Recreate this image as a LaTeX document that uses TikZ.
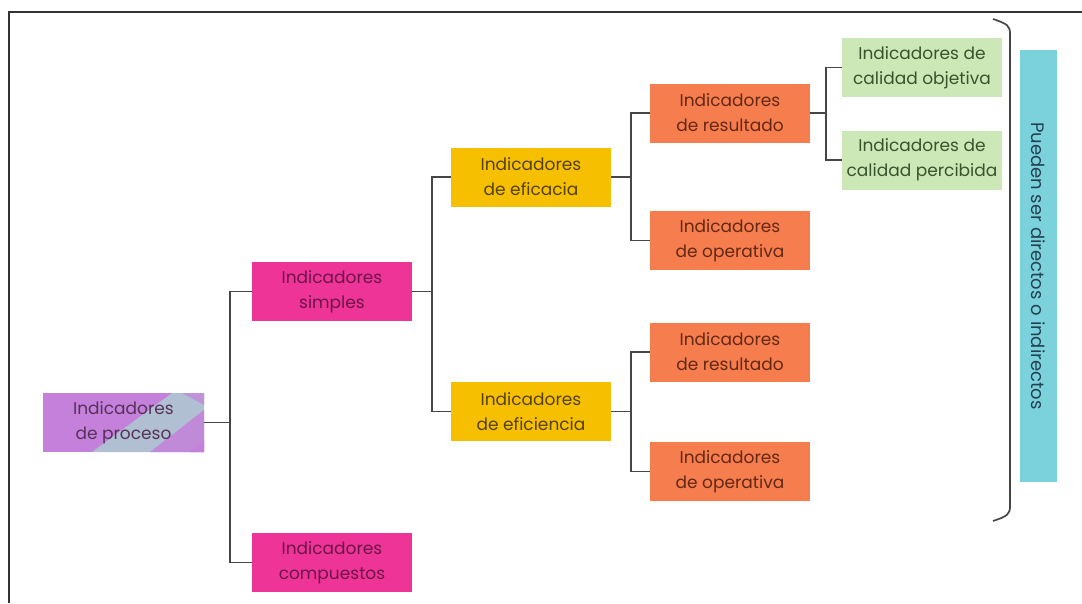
\documentclass[tikz,border=0pt]{standalone}
\usepackage{fontspec}
\setmainfont{Poppins}
\begin{document}
\begin{tikzpicture}[x=1pt,y=-1pt,
  box/.style={minimum width=160pt,minimum height=59pt,inner sep=0pt,align=center,
    font=\fontsize{17}{25}\selectfont},
  pinkbox/.style={box,fill=boxpink,text=txtpink},
  yellowbox/.style={box,fill=boxyellow,text=txtyellow},
  orangebox/.style={box,fill=boxorange,text=txtorange},
  greenbox/.style={box,fill=boxgreen,text=txtgreen},
  link/.style={draw=linegray,line width=1.7pt}]
\definecolor{boxpink}{RGB}{238,52,150}
\definecolor{txtpink}{RGB}{110,20,75}
\definecolor{boxyellow}{RGB}{246,192,0}
\definecolor{txtyellow}{RGB}{85,65,5}
\definecolor{boxorange}{RGB}{245,125,78}
\definecolor{txtorange}{RGB}{100,40,20}
\definecolor{boxgreen}{RGB}{204,232,182}
\definecolor{txtgreen}{RGB}{55,85,45}
\definecolor{boxpurple}{RGB}{196,128,218}
\definecolor{stripe}{RGB}{176,192,210}
\definecolor{txtpurple}{RGB}{85,50,90}
\definecolor{boxcyan}{RGB}{124,210,220}
\definecolor{txtcyan}{RGB}{35,65,80}
\definecolor{linegray}{RGB}{70,70,70}
\useasboundingbox (0,0) rectangle (1082,603);
\fill[white] (0,0) rectangle (1082,603);
% outer frame (top and left edges)
\draw[line width=1.2pt,draw=black!80] (9,603) -- (9,12) -- (1082,12);

% root box with its diagonal light band
\fill[boxpurple] (43,393) rectangle (204,452);
\fill[stripe] (92,452) -- (172,393) -- (204,393) -- (204,452) -- cycle;
\fill[boxpurple!85!stripe] (150,452) -- (204,410) -- (204,452) -- cycle;
\fill[boxpurple] (190,452) -- (204,440) -- (204,452) -- cycle;
\fill[boxpurple!70!stripe] (182,393) -- (204,393) -- (204,405) -- cycle;
\node[box,text=txtpurple] (proc) at (123.5,422.5) {Indicadores\\de proceso};

\node[pinkbox] (simp) at (332,291.5) {Indicadores\\simples};
\node[pinkbox] (comp) at (332,562.5) {Indicadores\\compuestos};

\node[yellowbox] (efic) at (531,177) {Indicadores\\de eficacia};
\node[yellowbox] (efin) at (531,411.5) {Indicadores\\de eficiencia};

\node[orangebox] (res1) at (730,113) {Indicadores\\de resultado};
\node[orangebox] (ope1) at (730,240.5) {Indicadores\\de operativa};
\node[orangebox] (res2) at (730,352) {Indicadores\\de resultado};
\node[orangebox] (ope2) at (730,471.5) {Indicadores\\de operativa};

\node[greenbox] (cobj) at (922,67.5) {Indicadores de\\calidad objetiva};
\node[greenbox] (cper) at (922,160) {Indicadores de\\calidad percibida};

% junction points of the tree
\coordinate (j1) at (230,422.5);
\coordinate (j2) at (432,291.5);
\coordinate (j3) at (631,177);
\coordinate (j4) at (631,411.5);
\coordinate (j5) at (826,113);

\draw[link] (proc.east) -- (j1);
\draw[link] (j1) |- (simp.west);
\draw[link] (j1) |- (comp.west);
\draw[link] (simp.east) -- (j2);
\draw[link] (j2) |- (efic.west);
\draw[link] (j2) |- (efin.west);
\draw[link] (efic.east) -- (j3);
\draw[link] (j3) |- (res1.west);
\draw[link] (j3) |- (ope1.west);
\draw[link] (efin.east) -- (j4);
\draw[link] (j4) |- (res2.west);
\draw[link] (j4) |- (ope2.west);
\draw[link] (res1.east) -- (j5);
\draw[link] (j5) |- (cobj.west);
\draw[link] (j5) |- (cper.west);

% closing bracket and side label
\coordinate (bt) at (993,19);
\coordinate (bb) at (993,521);
\draw[linegray,line width=1.7pt] (bt) .. controls (1008,24) and (1010,26) .. (1010,34)
  -- (1010,506) .. controls (1010,514) and (1008,516) .. (bb);
\node[fill=boxcyan,minimum width=432pt,minimum height=37pt,inner sep=0pt,rotate=-90,
  text=txtcyan,font=\fontsize{18}{22}\selectfont] (side) at (1038.5,266) {Pueden ser directos o indirectos};
\end{tikzpicture}
\end{document}
